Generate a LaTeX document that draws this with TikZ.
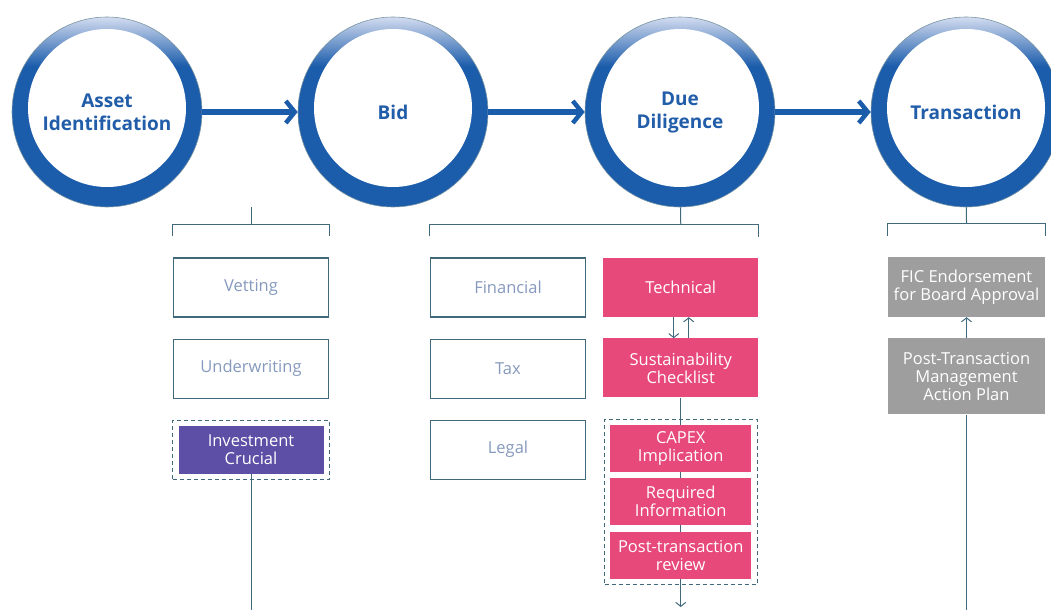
\documentclass[tikz,border=0pt]{standalone}
\usepackage{fontspec}
\setmainfont{Open Sans}
\usepackage{tikz}
\usetikzlibrary{positioning, fit, arrows.meta, backgrounds}

\definecolor{ringblue}{HTML}{1B5CAB}
\definecolor{ringtop}{HTML}{D3DCF0}
\definecolor{titleblue}{HTML}{215DA8}
\definecolor{linecol}{HTML}{41697C}
\definecolor{softtext}{HTML}{8599BC}
\definecolor{pinkfill}{HTML}{E8497B}
\definecolor{purplefill}{HTML}{5C4FA5}
\definecolor{grayfill}{HTML}{9E9E9E}
\pgfdeclareverticalshading{ringshade}{100bp}{color(0bp)=(ringblue); color(62bp)=(ringblue); color(75bp)=(ringtop); color(100bp)=(ringtop)}

\begin{document}
\begin{tikzpicture}[
        x=1pt, y=1pt,
        every node/.style={inner sep=1pt, align=center, font=\fontsize{16.5}{18}\selectfont},
        stage/.style={circle, minimum size=190pt, draw=linecol!70, line width=.6pt, shade, shading=ringshade, text=titleblue, font=\bfseries\fontsize{19}{23}\selectfont,
            path picture={\fill[white] ([yshift=4pt]path picture bounding box.center) circle (79pt);}},
        outline/.style={draw=linecol, line width=1.1pt, minimum width=155pt, minimum height=59pt, text=softtext},
        pink/.style={fill=pinkfill, text=white, minimum width=155pt, minimum height=59pt},
        pinksmall/.style={fill=pinkfill, text=white, minimum width=141pt, minimum height=47pt},
        invest/.style={fill=purplefill, text=white, minimum width=145pt, minimum height=48pt},
        grey/.style={fill=grayfill, text=white, minimum width=157pt},
        frame/.style={draw=linecol, line width=.9pt, dash pattern=on 4pt off 3pt, inner sep=5.5pt},
        link/.style={draw=linecol, line width=1pt},
        to/.style={link, -{Straight Barb[length=4pt, width=10pt]}},
        flow/.style={draw=ringblue, line width=5.5pt, -{Straight Barb[length=9pt, width=22pt, line width=4.5pt]}},
        ]
      \useasboundingbox (0,0) rectangle (1051,-610);

      \node [stage] (asset) at (107,-112) {Asset\\Identification};
      \node [stage] (bid) at (393,-112) {Bid};
      \node [stage] (due) at (680,-112) {Due\\Diligence};
      \node [stage] (transaction) at (966,-112) {Transaction};

      \draw[flow] (asset) -- (bid);
      \draw[flow] (bid) -- (due);
      \draw[flow] (due) -- (transaction);

      \node [outline] (vetting) at (251,-287.5) {Vetting};
      \node [outline, below=21pt of vetting] (underwriting) {Underwriting};
      \node [invest, below=27pt of underwriting] (investment) {Investment\\Crucial};
      \node [frame, fit=(investment)] (investment-frame) {};

      \node [outline] (financial) at (508,-287.5) {Financial};
      \node [outline, below=21pt of financial] (tax) {Tax};
      \node [outline, below=21pt of tax] (legal) {Legal};
      \node [pink, right=17pt of financial] (technical) {Technical};
      \node [pink, below=21pt of technical] (sustainability) {Sustainability\\Checklist};
      \node [pinksmall, below=27pt of sustainability] (capex) {CAPEX\\Implication};
      \node [pinksmall, below=6pt of capex] (required) {Required\\Information};
      \node [pinksmall, below=6pt of required] (review) {Post-transaction\\review};
      \node [frame, fit=(capex)(review)] (checks-frame) {};

      \node [grey, minimum height=60pt] (fic) at (966.5,-287) {FIC Endorsement\\for Board Approval};
      \node [grey, below=21pt of fic, minimum height=76pt] (post-transaction) {Post-Transaction\\Management\\Action Plan};

      \coordinate (asset-bracket) at ([yshift=33pt]vetting.north);
      \coordinate (due-bracket) at ([yshift=33pt]technical.north);
      \coordinate (transaction-bracket) at ([yshift=33pt]fic.north);
      \coordinate (investment-end) at (249,-610);
      \coordinate (checks-end) at (680,-607);
      \coordinate (transaction-end) at (966,-610);

      \draw[link] (asset.south -| asset-bracket) -- (asset-bracket);
      \draw[link] ([yshift=21pt]vetting.north west) |- (asset-bracket) -| ([yshift=21pt]vetting.north east);
      \draw[link] (due) -- (due-bracket);
      \draw[link] ([yshift=21pt]financial.north west) |- (due-bracket) -| ([yshift=21pt]technical.north east);
      \draw[link] (transaction) -- (transaction-bracket);
      \draw[link] ([yshift=21pt]fic.north west) |- (transaction-bracket) -| ([yshift=21pt]fic.north east);

      \draw[to] ([xshift=-7pt]technical.south) -- ([xshift=-7pt]sustainability.north);
      \draw[to] ([xshift=8pt]sustainability.north) -- ([xshift=8pt]technical.south);
      \draw[to] (post-transaction) -- (fic);
      \draw[link] (investment) -- (investment.south |- investment-end);
      \draw[link] (post-transaction) -- (post-transaction.south |- transaction-end);
      \begin{scope}[on background layer]
        \draw[to] (sustainability) -- (sustainability.south |- checks-end);
      \end{scope}
    \end{tikzpicture}
\end{document}
